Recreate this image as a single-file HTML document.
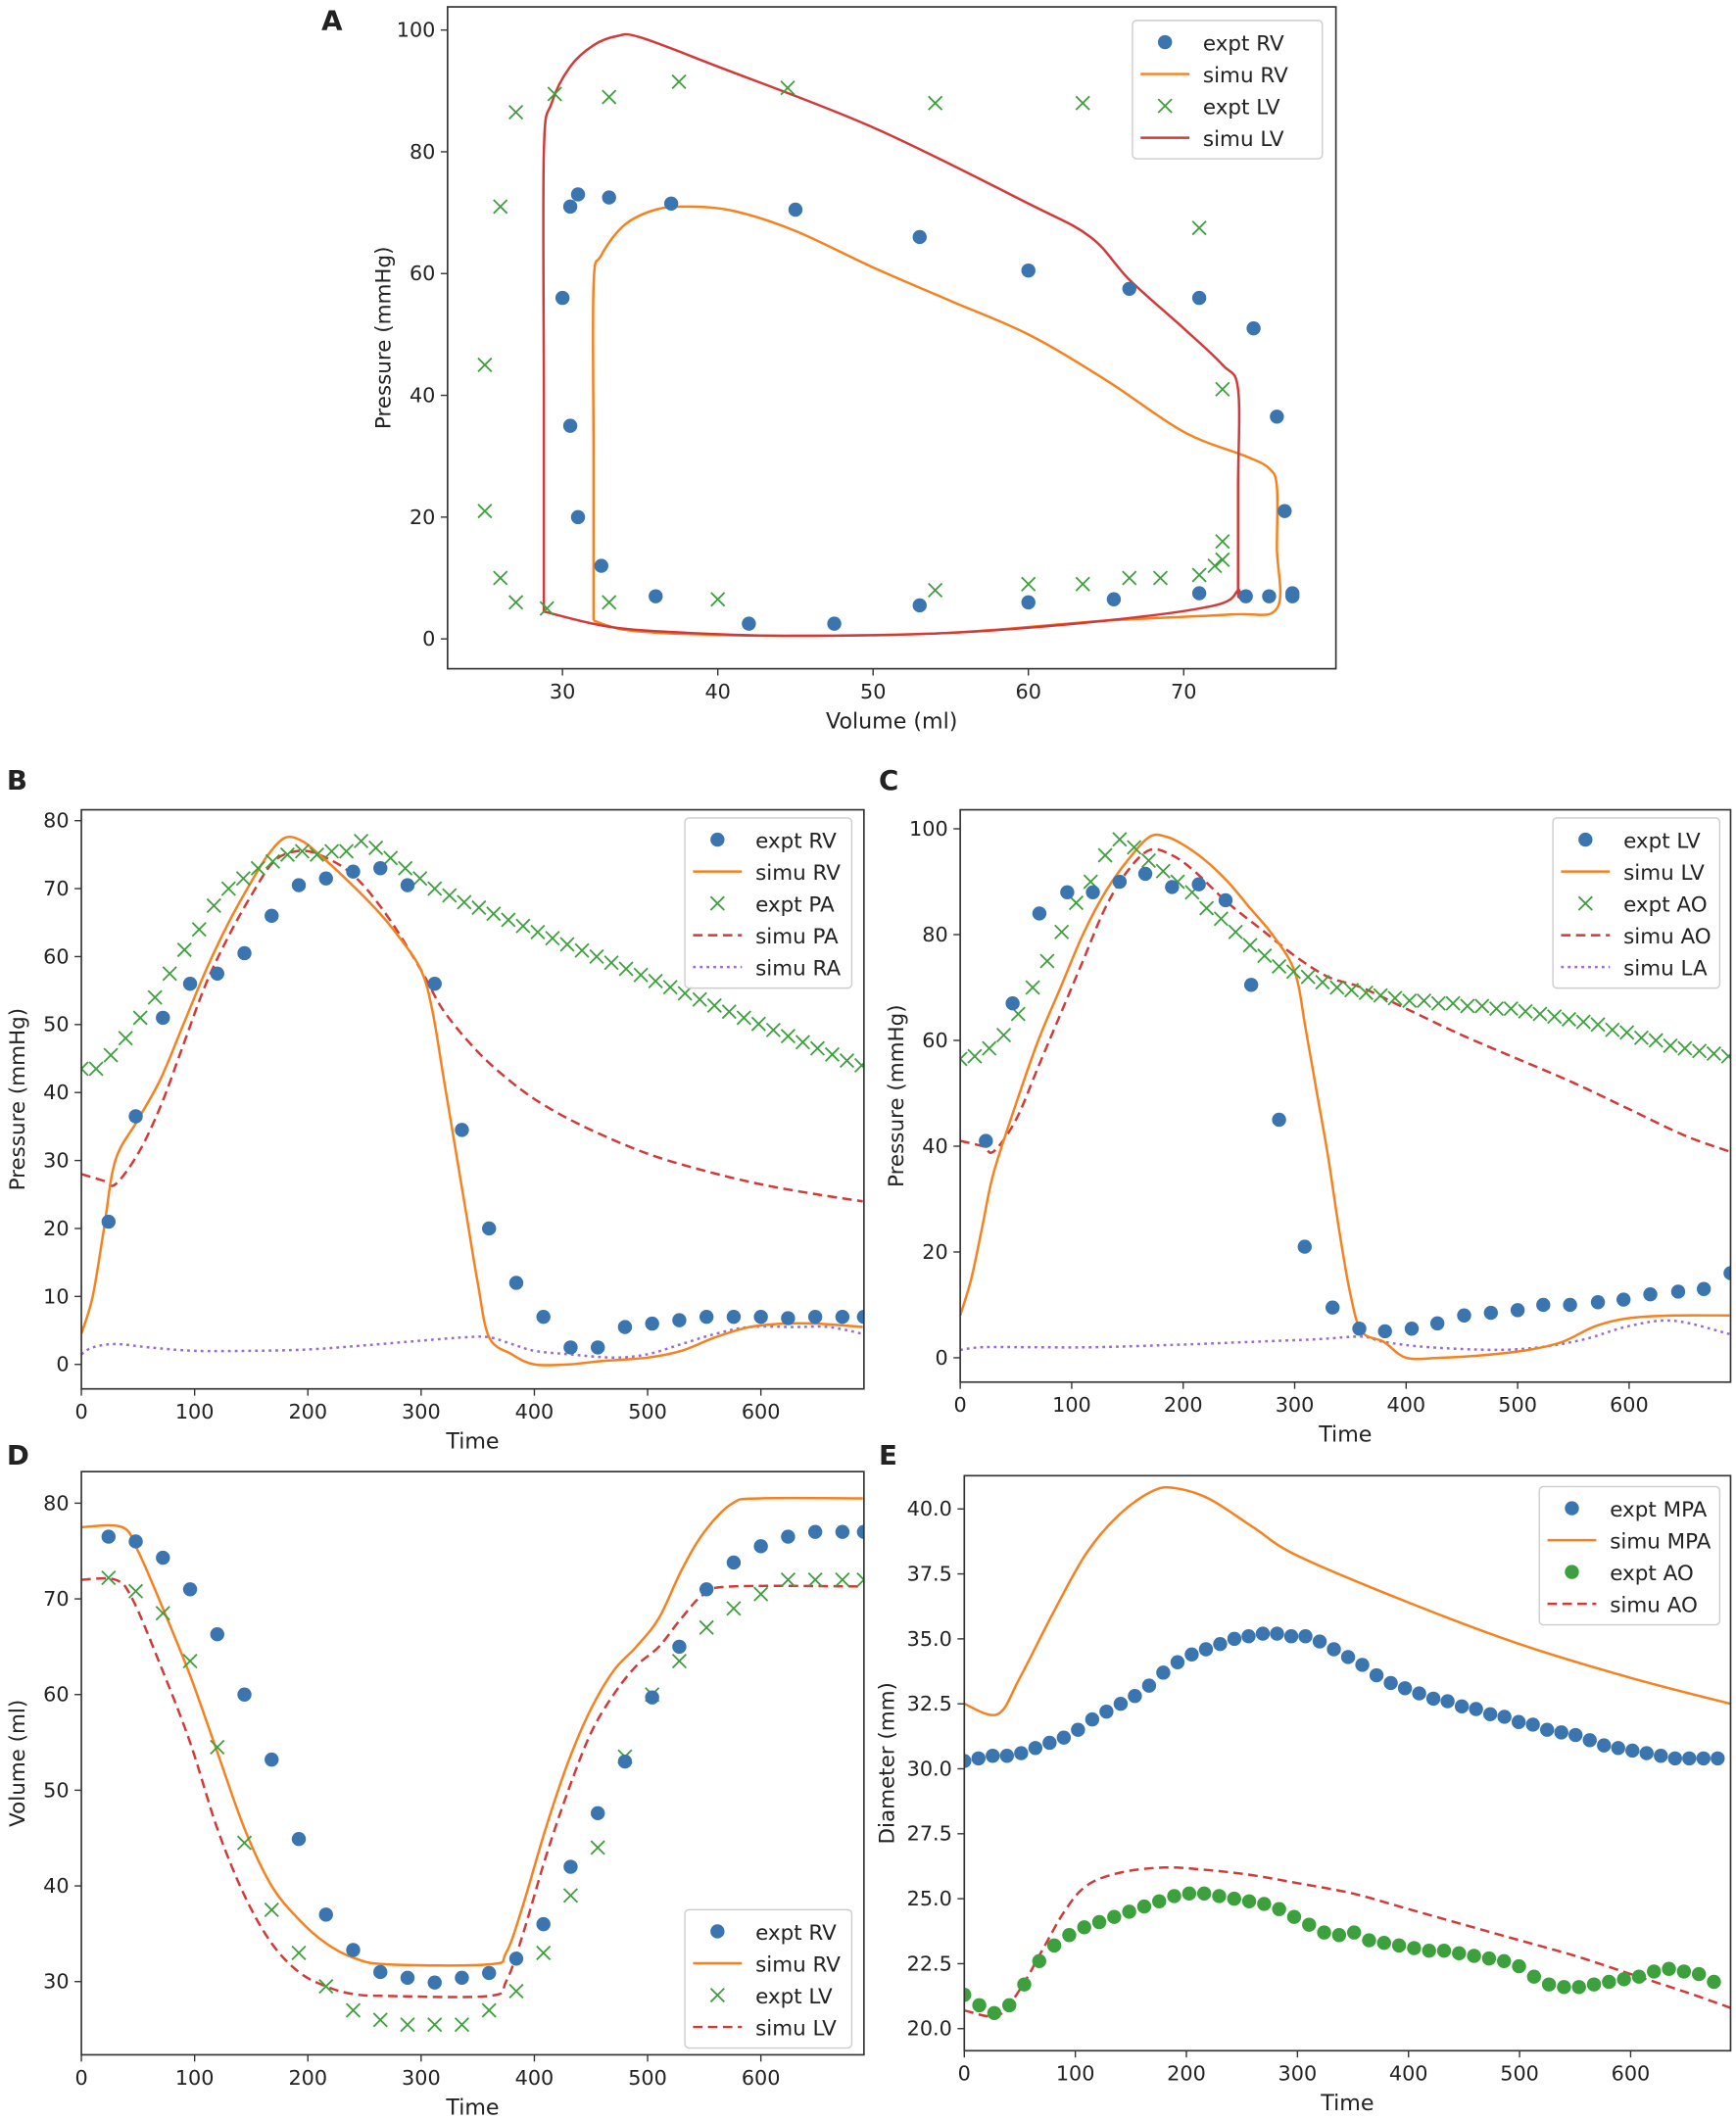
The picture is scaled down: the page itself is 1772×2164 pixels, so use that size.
<!DOCTYPE html>
<html><head><meta charset="utf-8">
<style>
html,body{margin:0;padding:0;background:#fff}
svg{display:block}
text{font-family:"DejaVu Sans","Liberation Sans",sans-serif;fill:#222}
</style></head>
<body>
<svg id="fig" width="1772" height="2164" viewBox="0 0 1280 1563" xmlns="http://www.w3.org/2000/svg"></svg>
<script>
// ---------- Panel A data ----------
const aRvExptV=[31,30.5,30,30.5,31,32.5,36,42,47.5,53,60,65.5,71,74,75.5,77,77,76.5,76,74.5,71,66.5,60,53,45,37,33];
const aRvExptP=[73,71,56,35,20,12,7,2.5,2.5,5.5,6,6.5,7.5,7,7,7.5,7,21,36.5,51,56,57.5,60.5,66,70.5,71.5,72.5];
const aLvExptV=[27,29.5,33,37.5,44.5,54,63.5,71,72.5,72.5,72.5,72,71,68.5,66.5,63.5,60,54,40,33,29,27,26,25,25,26];
const aLvExptP=[86.5,89.5,89,91.5,90.5,88,88,67.5,41,16,13,12,10.5,10,10,9,9,8,6.5,6,5,6,10,21,45,71];
const aLvSimV=[28.8,28.8,28.8,29.3,30.5,32,33.5,35,40,50,60,64,66.5,70,72.5,73.5,73.5,73.5,73.5,72,65,55,45,38,33,28.8];
const aLvSimP=[4.5,40,80,88,94,97.5,99,98.8,94,84,71.5,66,59,51,45,41,25,8,8,5.5,3,1,0.5,1,2,4.5];
const aRvSimV=[32,32,32,32.5,34,36,38,41,45,50,55,60,65,70,74,75.5,76,76,76,73,65,55,45,38,34,32];
const aRvSimP=[3,30,58,63,68,70.5,71,70.3,67,61,55.5,50,42.5,34,30,28,25,15,5,4,3,1,0.5,0.8,1.5,3];
// ---------- Panel B data ----------
const bRvExptT=[24,48,72,96,120,144,168,192,216,240,264,288,312,336,360,384,408,432,456,480,504,528,552,576,600,624,648,672,691];
const bRvExptP=[21,36.5,51,56,57.5,60.5,66,70.5,71.5,72.5,73,70.5,56,34.5,20,12,7,2.5,2.5,5.5,6,6.5,7,7,7,6.8,7,7,7];
const bPaExptP=[43.5,43.5,45.5,48,51,54,57.5,61,64,67.5,70,71.5,73,74,75,75.5,75,75.5,75.5,77,76,74.5,73,71.5,70,69,68,67.2,66.3,65.4,64.5,63.6,62.7,61.8,60.9,60,59.1,58.2,57.3,56.4,55.5,54.6,53.7,52.8,51.9,51,50.1,49.2,48.3,47.4,46.5,45.6,44.7,44];
const bRvSimT=[0,10,20,30,50,70,90,110,130,150,165,180,195,210,230,260,280,300,310,320,330,340,350,360,380,400,430,460,500,530,560,590,620,650,690];
const bRvSimP=[4.5,10,20,30,36,42,50,58,65,71,75,77.5,77,75,72,67,63,58,52,42,32,22,12,4,1.5,0,0,0.5,1,2,4,5.5,6,6,5.5];
const bPaSimT=[0,20,30,50,70,90,110,130,150,170,190,210,240,270,300,320,350,380,410,450,500,550,600,650,690];
const bPaSimP=[28,27,26.5,31,38,47,56,63,69,74,75.5,75,72,66,58,52,46,41.5,38,34.5,31,28.5,26.5,25,24];
const bRaSimT=[0,10,30,60,100,150,200,250,300,340,360,380,400,430,470,500,530,560,590,630,660,690];
const bRaSimP=[1.5,2.5,3,2.5,2,2,2.2,2.8,3.5,4,4,3,2,1.5,1,1.5,3,4.5,5.5,5.5,5.5,4.5];
// ---------- Panel C data ----------
const cLvExptT=[23,47,71,96,119,143,166,190,214,238,261,286,309,334,358,381,405,428,452,476,500,523,547,572,595,619,644,667,691];
const cLvExptP=[41,67,84,88,88,90,91.5,89,89.5,86.5,70.5,45,21,9.5,5.5,5,5.5,6.5,8,8.5,9,10,10,10.5,11,12,12.5,13,16];
const cAoExptP=[56.5,57,58.5,61,65,70,75,80.5,86,90,95,98,96.5,94,92,90,88,85,83,80.5,78,76,74,73,72,71,70,69.5,69,68.5,68,67.5,67.5,67,67,66.5,66.5,66,66,65.5,65,64.5,64,63.5,63,62,61.5,60.5,60,59,58.5,58,57.5,57];
const cLvSimT=[0,10,20,30,50,70,90,110,130,150,170,185,200,220,240,260,280,300,310,320,330,340,350,360,380,400,430,470,510,540,570,600,640,690];
const cLvSimP=[8,15,25,35,48,60,70,80,88,94,98.5,98.5,97,94,90,85,80,73,62,50,38,24,12,5,3,0,0,0.5,1.5,3,6,7.5,8,8];
const cAoSimT=[0,20,30,50,70,90,110,130,150,170,190,210,240,270,300,330,360,400,450,500,550,600,650,690];
const cAoSimP=[41,40,39,45,55,65,75,85,92,96,95,92,86,81,76,72,70,66,61,56.5,52,47,42,39];
const cLaSimT=[0,20,60,120,200,260,320,360,380,420,480,520,560,600,640,690];
const cLaSimP=[1.5,2,2,2,2.5,3,3.5,4,3,2,1.5,2,3.5,6,7,4.5];
// ---------- Panel D data ----------
const dExptT=[24,48,72,96,120,144,168,192,216,240,264,288,312,336,360,384,408,432,456,480,504,528,552,576,600,624,648,672,691];
const dRvExptV=[76.5,76,74.3,71,66.3,60,53.2,44.9,37,33.3,31,30.4,29.9,30.4,30.9,32.4,36,42,47.6,53,59.7,65,71,73.8,75.5,76.5,77,77,77];
const dLvExptV=[72.2,70.8,68.5,63.5,54.5,44.5,37.5,33,29.5,27,26,25.5,25.5,25.5,27,29,33,39,44,53.5,60,63.5,67,69,70.5,72,72,72,72];
const dRvSimT=[0,36,50,72,96,120,144,168,192,216,240,270,360,375,390,410,430,450,470,490,510,530,550,575,600,690];
const dRvSimV=[77.5,77.5,75,69,62,54,46,40,36.5,34,32.5,31.8,31.8,33,38,46,53,58.5,62.5,65,68,73,77,80,80.5,80.5];
const dLvSimT=[0,30,45,70,96,120,144,168,192,216,240,270,360,375,390,410,430,450,470,490,510,530,550,575,690];
const dLvSimV=[72,72,70,63,55,46,39,34,31,29.5,28.7,28.5,28.5,30,35,43,50,56,60,63,65,68,70.5,71.3,71.3];
// ---------- Panel E data ----------
const eMpaExptD=[30.3,30.4,30.5,30.5,30.6,30.8,31.0,31.2,31.5,31.9,32.2,32.5,32.8,33.2,33.7,34.1,34.4,34.6,34.8,35.0,35.1,35.2,35.2,35.1,35.1,34.9,34.6,34.3,34.0,33.6,33.3,33.1,32.9,32.7,32.6,32.4,32.3,32.1,32.0,31.8,31.7,31.5,31.4,31.3,31.1,30.9,30.8,30.7,30.6,30.5,30.4,30.4,30.4,30.4];
const eAoExptD=[21.3,20.9,20.6,20.9,21.7,22.6,23.2,23.6,23.9,24.1,24.3,24.5,24.7,24.9,25.1,25.2,25.2,25.1,25.0,24.9,24.8,24.6,24.3,24.0,23.7,23.6,23.7,23.4,23.3,23.2,23.1,23.0,23.0,22.9,22.8,22.7,22.6,22.4,22.0,21.7,21.6,21.6,21.7,21.8,21.9,22.0,22.2,22.3,22.2,22.1,21.8];
const eMpaSimT=[0,30,50,80,110,140,170,190,220,260,300,400,500,600,690];
const eMpaSimD=[32.5,32.1,33.5,36,38.3,39.8,40.7,40.8,40.4,39.3,38.2,36.4,34.8,33.5,32.5];
const eAoSimT=[0,30,50,70,90,110,140,180,220,260,300,350,400,450,500,550,600,650,690];
const eAoSimD=[20.7,20.5,21.5,23,24.5,25.5,26,26.2,26.1,25.9,25.6,25.2,24.6,24,23.4,22.8,22.1,21.4,20.8];
const timeTicks=[0,100,200,300,400,500,600];

const BLUE="#3a75b0",ORANGE="#f5821f",GREEN="#3ca03c",RED="#d23a3a",PURPLE="#9a6bd0";
const NS="http://www.w3.org/2000/svg";
const fig=document.getElementById('fig');
function el(tag,attrs,parent){const e=document.createElementNS(NS,tag);for(const k in attrs)e.setAttribute(k,attrs[k]);(parent||fig).appendChild(e);return e;}

function makeAxes(name,box,xd,yd,xt,yt,xlab,ylab,letter,lx,ly,yfmt){
  const g=el('g',{});
  
  
  const sx=v=>box.x0+(v-xd[0])/(xd[1]-xd[0])*(box.x1-box.x0);
  const sy=v=>box.y1-(v-yd[0])/(yd[1]-yd[0])*(box.y1-box.y0);
  const clipId='clip-'+name;
  const cp=el('clipPath',{id:clipId},g);el('rect',{x:box.x0,y:box.y0,width:box.x1-box.x0,height:box.y1-box.y0},cp);
  const xa=el('g',{},g);
  
  
  xt.forEach(v=>{const x=sx(v);el('line',{x1:x,x2:x,y1:box.y1,y2:box.y1+5,stroke:'#333','stroke-width':1},xa);
    const t=el('text',{x:x,y:box.y1+22,'text-anchor':'middle','font-size':15},xa);t.textContent=v;
    
    });
  const ya=el('g',{},g);
  
  
  yt.forEach(v=>{const y=sy(v);el('line',{x1:box.x0-5,x2:box.x0,y1:y,y2:y,stroke:'#333','stroke-width':1},ya);
    const t=el('text',{x:box.x0-9,y:y+5,'text-anchor':'end','font-size':15},ya);t.textContent=yfmt?yfmt(v):v;
    
    });
  const xl=el('text',{x:(box.x0+box.x1)/2,y:box.y1+44,'text-anchor':'middle','font-size':16},g);xl.textContent=xlab;
  
  
  const ylx=box.x0-(yfmt?52:42), yly=(box.y0+box.y1)/2;
  const yl=el('text',{x:ylx,y:yly,'text-anchor':'middle','font-size':15.5,transform:`rotate(-90 ${ylx} ${yly})`},g);yl.textContent=ylab;
  
  
  const lt=el('text',{x:lx,y:ly,'font-size':20,'font-weight':'bold'},g);lt.textContent=letter;
  
  
  const plot=el('g',{'clip-path':`url(#${clipId})`},g);
  el('rect',{x:box.x0,y:box.y0,width:box.x1-box.x0,height:box.y1-box.y0,fill:'none',stroke:'#333','stroke-width':1.2},g);
  return {g,plot,sx,sy};
}
function line(ax,xs,ys,color,dash,name,w){
  const P=xs.map((x,i)=>[ax.sx(x),ax.sy(ys[i])]);
  let d='M'+P[0][0].toFixed(2)+','+P[0][1].toFixed(2);
  for(let i=0;i<P.length-1;i++){
    const p0=P[Math.max(0,i-1)],p1=P[i],p2=P[i+1],p3=P[Math.min(P.length-1,i+2)];
    const k=1/6;
    const c1=[p1[0]+(p2[0]-p0[0])*k,p1[1]+(p2[1]-p0[1])*k];
    const c2=[p2[0]-(p3[0]-p1[0])*k,p2[1]-(p3[1]-p1[1])*k];
    d+=`C${c1[0].toFixed(2)},${c1[1].toFixed(2)} ${c2[0].toFixed(2)},${c2[1].toFixed(2)} ${p2[0].toFixed(2)},${p2[1].toFixed(2)}`;
  }
  const p=el('path',{d,fill:'none',stroke:color,'stroke-width':w||1.8,'stroke-dasharray':dash||'none'},ax.plot);
  
  
}
function dots(ax,xs,ys,color,name,r){
  const g=el('g',{},ax.plot);
  
  
  xs.forEach((x,i)=>{const c=el('circle',{cx:ax.sx(x),cy:ax.sy(ys[i]),r:r||5.2,fill:color},g);
    
    });
}
function crosses(ax,xs,ys,color,name){
  const g=el('g',{},ax.plot);
  
  
  xs.forEach((x,i)=>{const cx=ax.sx(x),cy=ax.sy(ys[i]),s=5;
    const p=el('path',{d:`M${cx-s},${cy-s}L${cx+s},${cy+s}M${cx-s},${cy+s}L${cx+s},${cy-s}`,stroke:color,'stroke-width':1.3,fill:'none'},g);
    
    });
}
function legend(ax,x,y,w,entries){
  const g=el('g',{},ax.g);
  
  
  el('rect',{x,y,width:w,height:entries.length*23.5+8,rx:3,fill:'#fff','fill-opacity':0.85,stroke:'#ccc'},g);
  entries.forEach((e,i)=>{
    const cy=y+16+i*23.5, mx=x+24;
    const eg=el('g',{},g);
    
    
    if(e.t==='dot')el('circle',{cx:mx,cy,r:5.2,fill:e.c},eg);
    else if(e.t==='x')el('path',{d:`M${mx-5},${cy-5}L${mx+5},${cy+5}M${mx-5},${cy+5}L${mx+5},${cy-5}`,stroke:e.c,'stroke-width':1.3},eg);
    else el('line',{x1:mx-18,x2:mx+18,y1:cy,y2:cy,stroke:e.c,'stroke-width':1.8,'stroke-dasharray':e.d||'none'},eg);
    const t=el('text',{x:x+52,y:cy+6,'font-size':15.5},eg);t.textContent=e.l;
  });
}
const range=(n,s)=>Array.from({length:n},(_,i)=>i*s);

// Panel A
const A=makeAxes('panel-a',{x0:330,x1:985,y0:5,y1:493},[22.6,79.8],[-4.9,103.8],[30,40,50,60,70],[0,20,40,60,80,100],'Volume (ml)','Pressure (mmHg)','A',237,22);
line(A,aRvSimV,aRvSimP,ORANGE,null,'simu-rv-loop');
line(A,aLvSimV,aLvSimP,RED,null,'simu-lv-loop');
dots(A,aRvExptV,aRvExptP,BLUE,'expt-rv-points');
crosses(A,aLvExptV,aLvExptP,GREEN,'expt-lv-points');
legend(A,835,15,140,[{t:'dot',c:BLUE,l:'expt RV'},{t:'line',c:ORANGE,l:'simu RV'},{t:'x',c:GREEN,l:'expt LV'},{t:'line',c:RED,l:'simu LV'}]);

// Panel B
const B=makeAxes('panel-b',{x0:60,x1:637,y0:597,y1:1024},[0,691],[-3.6,81.6],timeTicks,[0,10,20,30,40,50,60,70,80],'Time','Pressure (mmHg)','B',5,582);
line(B,bRaSimT,bRaSimP,PURPLE,'2 3','simu-ra-line');
line(B,bPaSimT,bPaSimP,RED,'7 4','simu-pa-line');
line(B,bRvSimT,bRvSimP,ORANGE,null,'simu-rv-line');
crosses(B,range(bPaExptP.length,13),bPaExptP,GREEN,'expt-pa-points');
dots(B,bRvExptT,bRvExptP,BLUE,'expt-rv-points');
legend(B,505,603,123,[{t:'dot',c:BLUE,l:'expt RV'},{t:'line',c:ORANGE,l:'simu RV'},{t:'x',c:GREEN,l:'expt PA'},{t:'line',c:RED,d:'7 4',l:'simu PA'},{t:'line',c:PURPLE,d:'2 3',l:'simu RA'}]);

// Panel C
const C=makeAxes('panel-c',{x0:708,x1:1276,y0:597,y1:1019},[0,691],[-4.6,103.6],timeTicks,[0,20,40,60,80,100],'Time','Pressure (mmHg)','C',648,582);
line(C,cLaSimT,cLaSimP,PURPLE,'2 3','simu-la-line');
line(C,cAoSimT,cAoSimP,RED,'7 4','simu-ao-line');
line(C,cLvSimT,cLvSimP,ORANGE,null,'simu-lv-line');
crosses(C,range(cAoExptP.length,13),cAoExptP,GREEN,'expt-ao-points');
dots(C,cLvExptT,cLvExptP,BLUE,'expt-lv-points');
legend(C,1145,603,123,[{t:'dot',c:BLUE,l:'expt LV'},{t:'line',c:ORANGE,l:'simu LV'},{t:'x',c:GREEN,l:'expt AO'},{t:'line',c:RED,d:'7 4',l:'simu AO'},{t:'line',c:PURPLE,d:'2 3',l:'simu LA'}]);

// Panel D
const D=makeAxes('panel-d',{x0:60,x1:637,y0:1085,y1:1515},[0,691],[22.35,83.3],timeTicks,[30,40,50,60,70,80],'Time','Volume (ml)','D',5,1080);
line(D,dLvSimT,dLvSimV,RED,'7 4','simu-lv-line');
line(D,dRvSimT,dRvSimV,ORANGE,null,'simu-rv-line');
crosses(D,dExptT,dLvExptV,GREEN,'expt-lv-points');
dots(D,dExptT,dRvExptV,BLUE,'expt-rv-points');
legend(D,505,1408,123,[{t:'dot',c:BLUE,l:'expt RV'},{t:'line',c:ORANGE,l:'simu RV'},{t:'x',c:GREEN,l:'expt LV'},{t:'line',c:RED,d:'7 4',l:'simu LV'}]);

// Panel E
const E=makeAxes('panel-e',{x0:711,x1:1276,y0:1088,y1:1512},[0,690],[19.15,41.28],timeTicks,[20,22.5,25,27.5,30,32.5,35,37.5,40],'Time','Diameter (mm)','E',648,1080,v=>v.toFixed(1));
line(E,eMpaSimT,eMpaSimD,ORANGE,null,'simu-mpa-line');
line(E,eAoSimT,eAoSimD,RED,'7 4','simu-ao-line');
dots(E,range(eMpaExptD.length,12.8),eMpaExptD,BLUE,'expt-mpa-points');
dots(E,range(eAoExptD.length,13.5),eAoExptD,GREEN,'expt-ao-points');
legend(E,1135,1096,133,[{t:'dot',c:BLUE,l:'expt MPA'},{t:'line',c:ORANGE,l:'simu MPA'},{t:'dot',c:GREEN,l:'expt AO'},{t:'line',c:RED,d:'7 4',l:'simu AO'}]);
</script>
</body></html>
